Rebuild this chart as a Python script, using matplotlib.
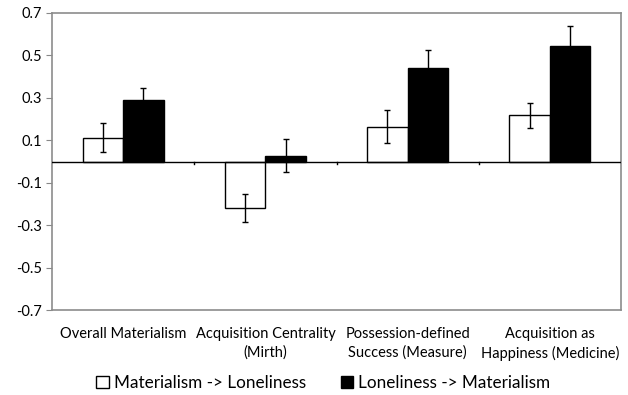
import numpy as np
import matplotlib.pyplot as plt
from matplotlib.patches import Patch

plt.rcParams['font.family'] = ['Lato', 'DejaVu Sans']

categories = ['Overall Materialism', 'Acquisition Centrality\n(Mirth)',
              'Possession-defined\nSuccess (Measure)', 'Acquisition as\nHappiness (Medicine)']
mat_to_lone = [0.113, -0.22, 0.164, 0.219]
mat_to_lone_err = [0.07, 0.066, 0.078, 0.059]
lone_to_mat = [0.288, 0.027, 0.442, 0.546]
lone_to_mat_err = [0.06, 0.077, 0.085, 0.095]
yticks = [-0.7, -0.5, -0.3, -0.1, 0.1, 0.3, 0.5, 0.7]

fig = plt.figure(figsize=(6.28, 3.95), dpi=100)
ax = fig.add_axes([52/628, 1-310/395, (621-52)/628, (310-13)/395])

x = np.arange(len(categories))
w = 0.285
ax.bar(x - w/2, mat_to_lone, w, color='white', edgecolor='black', linewidth=1.0,
       yerr=mat_to_lone_err, error_kw=dict(ecolor='black', elinewidth=1.0, capsize=2.5, capthick=1.0),
       label='Materialism -> Loneliness', zorder=2)
ax.bar(x + w/2, lone_to_mat, w, color='black', edgecolor='black', linewidth=1.0,
       yerr=lone_to_mat_err, error_kw=dict(ecolor='black', elinewidth=1.0, capsize=2.5, capthick=1.0),
       label='Loneliness -> Materialism', zorder=2)

ax.set_xlim(-0.5, len(categories) - 0.5)
ax.set_ylim(-0.7, 0.7)
ax.set_yticks(yticks)
ax.set_yticklabels(['%.1f' % v for v in yticks])
ax.axhline(0, color='black', linewidth=1.0, zorder=3)

# small category ticks on the zero line
for b in np.arange(0.5, len(categories) - 0.5, 1.0):
    ax.plot([b, b], [0, -0.012], color='black', linewidth=1.0, zorder=3)

ax.set_xticks(x)
ax.set_xticklabels(categories, fontsize=10.5, linespacing=1.4)
ax.tick_params(axis='x', length=0, pad=12)
ax.tick_params(axis='y', length=4, color='#888888', labelsize=10.5, pad=3)
for s in ax.spines.values():
    s.set_color('#8c8c8c')
    s.set_linewidth(1.2)

handles = [Patch(facecolor='white', edgecolor='black', linewidth=1.0),
           Patch(facecolor='black', edgecolor='black', linewidth=1.0)]
fig.legend(handles, ['Materialism -> Loneliness', 'Loneliness -> Materialism'],
           loc='center', bbox_to_anchor=(0.515, 1-383/395), ncol=2, frameon=False,
           fontsize=12.3, handlelength=0.75, handleheight=0.75, handletextpad=0.3, columnspacing=2.0)

fig.savefig('out.png', dpi=100)
